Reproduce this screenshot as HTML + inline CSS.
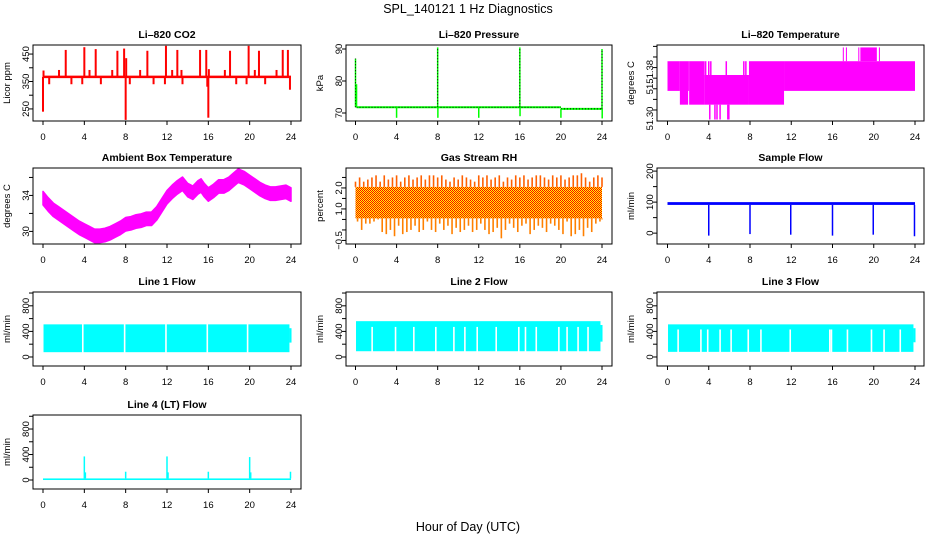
<!DOCTYPE html>
<html><head><meta charset="utf-8"><style>
html,body{margin:0;padding:0;background:#fff;}
svg{display:block;font-family:"Liberation Sans",sans-serif;}
</style></head><body>
<svg id="c" width="936" height="540" viewBox="0 0 936 540">
<defs><pattern id="orng" width="2" height="2" patternUnits="userSpaceOnUse"><rect width="2" height="2" fill="#ffff00"/><rect width="1" height="1" fill="#ff0000"/><rect x="1" y="1" width="1" height="1" fill="#ff0000"/></pattern></defs>
<text x="468" y="13" text-anchor="middle" font-size="12.5">SPL_140121  1 Hz Diagnostics</text>
<text x="468" y="531" text-anchor="middle" font-size="12.5">Hour of Day (UTC)</text>
</svg>
<script>
// ---- data ----
const hourTicks=[0,4,8,12,16,20,24];
const co2Base=367;
const co2SpikeX=[0.0,0.05,0.6,1.55,2.2,2.75,3.8,4.0,4.5,5.1,5.6,6.7,7.2,7.85,8.0,8.05,8.4,9.4,10.1,10.7,11.8,11.9,12.5,13.0,13.4,13.5,15.2,15.8,15.9,16.0,16.05,17.6,18.1,18.7,19.7,19.9,20.5,20.9,21.5,22.6,23.2,23.7,23.9];
const co2SpikeV=[240,390,340,392,465,340,340,475,392,468,340,392,462,470,210,435,340,392,462,340,340,480,392,465,392,340,465,465,331,218,395,392,462,340,340,480,392,462,340,392,465,465,320];
const pressBaseX0=[0.1,20];
const pressBaseX1=[20,24];
const pressBaseV=[71.8,71.3];
const pressSpikeX=[0.0,0.1,4.0,8.0,8.02,12.0,16.0,16.02,20.0,24.0,24.02];
const pressSpikeV=[87,79,68.5,90.5,68.5,68.5,90.5,69,68.5,90,68.3];
const tempSegX0=[0,1.2,2.0,2.1,3.6,7.9,11.3,17.0,17.3,18.5,18.7,20.5];
const tempSegX1=[1.2,2.0,2.1,3.6,7.9,11.3,24,17.1,17.4,18.6,20.3,20.6];
const tempSegLo=[51.318,51.305,51.318,51.305,51.305,51.305,51.318,51.346,51.346,51.346,51.346,51.346];
const tempSegHi=[51.346,51.346,51.346,51.346,51.333,51.346,51.346,51.359,51.359,51.359,51.359,51.359];
const tempSpikeX=[3.7,4.0,4.2,5.7,7.4,7.6,4.1,4.6,4.8,5.1,5.85,5.95];
const tempSpikeLo=[51.333,51.333,51.333,51.333,51.333,51.333,51.291,51.291,51.291,51.291,51.291,51.291];
const tempSpikeHi=[51.346,51.346,51.346,51.346,51.346,51.346,51.305,51.305,51.305,51.305,51.305,51.305];
const ambX=[0,0.5,1,1.5,2,2.5,3,3.5,4,4.5,5,5.5,6,6.5,7,7.5,8,8.5,9,9.5,10,10.5,11,11.5,12,12.5,13,13.5,14,14.5,15,15.3,15.6,16,16.5,17,17.5,18,18.5,18.9,19.5,20,20.5,21,21.5,22,22.5,23,23.5,24];
const ambV=[33.7,33.0,32.4,32.0,31.6,31.2,30.8,30.4,30.1,29.8,29.5,29.5,29.6,29.8,30.1,30.4,30.8,30.9,31.1,31.2,31.4,31.4,32.0,32.9,33.8,34.4,34.9,35.3,34.6,34.3,34.9,35.1,34.6,34.1,34.5,35.0,35.0,35.3,35.8,36.2,35.9,35.5,35.1,34.7,34.4,34.2,34.2,34.3,34.4,34.1];
const rhHi=[2.3,2.5,2.3,2.4,2.5,2.6,2.3,2.6,2.4,2.5,2.6,2.3,2.5,2.6,2.4,2.5,2.6,2.4,2.6,2.6,2.5,2.6,2.4,2.3,2.5,2.4,2.6,2.5,2.4,2.3,2.6,2.5,2.6,2.4,2.5,2.6,2.3,2.5,2.4,2.6,2.5,2.6,2.4,2.5,2.6,2.6,2.5,2.4,2.6,2.5,2.6,2.4,2.5,2.6,2.6,2.7,2.5,2.3,2.5,2.6,2.5];
const rhLo=[0.4,0.0,0.3,0.3,0.4,0.5,-0.1,-0.2,0.0,-0.3,0.2,-0.2,-0.1,0.0,0.2,-0.1,0.0,0.4,0.0,-0.1,0.3,0.0,0.2,-0.2,0.1,-0.1,0.0,0.2,-0.1,0.0,0.3,0.0,-0.2,-0.1,0.1,-0.4,0.0,0.3,0.1,-0.1,0.2,0.3,-0.2,0.0,0.2,0.1,-0.1,0.3,0.2,0.0,-0.2,0.4,-0.3,-0.2,0.0,-0.3,0.1,-0.1,0.3,0.4,0.5];
const rhCore=[0.55,2.05];
const sfBand=[91,100];
const sfSpikeX=[4.0,8.0,11.95,16.0,19.95,23.95];
const sfSpikeV=[-8,-3,-5,-8,-5,-10];
const l1Band=[75,510];
const l1Gaps=[3.85,7.9,11.9,15.9,19.8];
const l2Band=[90,560];
const l2GapTop=470;
const l2Gaps=[1.62,3.9,5.68,7.82,9.58,10.65,11.85,13.7,15.9,16.55,17.6,19.8,20.6,21.67,22.64];
const l3Band=[80,510];
const l3GapTop=430;
const l3Gaps=[1.03,3.24,3.9,5.1,6.17,7.83,9.06,11.9,15.74,15.9,17.45,19.78,21.0,22.57];
const l4Band=[0,25];
const l4X=[4.0,4.1,8.0,12.0,12.1,16.0,20.0,20.1,23.95];
const l4V=[370,120,130,370,120,130,360,120,130];

// ---- layout ----
const NS='http://www.w3.org/2000/svg';
const svg=document.getElementById('c');
const colL=[33,346,657],colR=[301,612,924],colX0=[43,355.5,667.5],colX24=[291,602,915];
const rowT=[45,168,292,415],rowB=[121,244,366,489];
function mk(tag,attrs,parent){const e=document.createElementNS(NS,tag);for(const k in attrs)e.setAttribute(k,attrs[k]);(parent||svg).appendChild(e);return e;}
function panel(id,col,row,title,ylab,dom,ticks,labels,labelText){
  const g=mk('g',{});
  
  
  const L=colL[col],R=colR[col],T=rowT[row],B=rowB[row];
  const x=h=>colX0[col]+(colX24[col]-colX0[col])*h/24;
  const y=v=>B-(v-dom[0])/(dom[1]-dom[0])*(B-T);
  const plot=mk('g',{},g);
  
  
  const t=mk('text',{x:(L+R)/2,y:T-7,'text-anchor':'middle','font-size':10.5,'font-weight':'bold'},g);
  t.textContent=title;
  
  
  const yl=mk('text',{x:0,y:0,transform:`translate(${L-23},${(T+B)/2}) rotate(-90)`,'text-anchor':'middle','font-size':9.5},g);
  yl.textContent=ylab;
  
  
  const ax=mk('g',{stroke:'#000','stroke-width':1},g);
  
  
  hourTicks.forEach(h=>{
    mk('line',{x1:x(h),x2:x(h),y1:B,y2:B+4},ax);
    const tl=mk('text',{x:x(h),y:B+19,'text-anchor':'middle','font-size':9.5,stroke:'none'},g);
    tl.textContent=h;
    
    
  });
  ticks.forEach(v=>mk('line',{x1:L-4,x2:L,y1:y(v),y2:y(v)},ax));
  labels.forEach((v,i)=>{
    const tl=mk('text',{x:0,y:0,transform:`translate(${L-4},${y(v)}) rotate(-90)`,'text-anchor':'middle','font-size':9.5},g);
    tl.textContent=labelText?labelText[i]:v;
    
    
  });
  const box=mk('rect',{x:L,y:T,width:R-L,height:B-T,fill:'none',stroke:'#000'},g);
  
  
  return {x,y,plot,L,R,T,B};
}
function vline(p,h,v0,v1,color,w){return mk('line',{x1:p.x(h),x2:p.x(h),y1:p.y(v0),y2:p.y(v1),stroke:color,'stroke-width':w||1.5},p.plot);}
function band(p,h0,h1,v0,v1,color){return mk('rect',{x:p.x(h0),y:p.y(v1),width:p.x(h1)-p.x(h0),height:p.y(v0)-p.y(v1),fill:color},p.plot);}

// CO2
let p=panel('co2',0,0,'Li\u2013820 CO2','Licor ppm',[206,483],[250,300,350,400,450],[250,350,450]);
co2SpikeX.forEach((h,i)=>{const e=vline(p,h,co2Base,co2SpikeV[i],'#ff0000',2);});
let e=mk('line',{x1:p.x(0),x2:p.x(24),y1:p.y(co2Base),y2:p.y(co2Base),stroke:'#ff0000','stroke-width':2.5},p.plot);


// Pressure
p=panel('pressure',1,0,'Li\u2013820 Pressure','kPa',[67.5,91.25],[70,80,90],[70,80,90]);
pressBaseV.forEach((v,i)=>{
  e=mk('line',{x1:p.x(pressBaseX0[i]),x2:p.x(pressBaseX1[i]),y1:p.y(v),y2:p.y(v),stroke:'#00ff00','stroke-width':2},p.plot);
  
  mk('line',{x1:p.x(pressBaseX0[i]),x2:p.x(pressBaseX1[i]),y1:p.y(v),y2:p.y(v),stroke:'#000','stroke-width':1,'stroke-dasharray':'1,2'},p.plot);
});
pressSpikeX.forEach((h,i)=>{const b=h>=20?71.3:71.8;e=vline(p,h,b,pressSpikeV[i],'#00ff00',1.5);
  if(pressSpikeV[i]>85)mk('line',{x1:p.x(h),x2:p.x(h),y1:p.y(b),y2:p.y(pressSpikeV[i]),stroke:'#000','stroke-width':1,'stroke-dasharray':'1,2'},p.plot);});

// Temperature
p=panel('li820-temp',2,0,'Li\u2013820 Temperature','degrees C',[51.2896,51.3613],[51.30,51.31,51.32,51.33,51.34,51.35,51.36],[51.292,51.321,51.336],['51.30','51.','51.38']);
tempSegX0.forEach((h,i)=>{e=band(p,h,tempSegX1[i],tempSegLo[i],tempSegHi[i],'#ff00ff');});
tempSpikeX.forEach((h,i)=>{e=vline(p,h,tempSpikeLo[i],tempSpikeHi[i],'#ff00ff',1.5);});

// Ambient
p=panel('ambient-temp',0,1,'Ambient Box Temperature','degrees C',[28.6,37.05],[30,32,34,36],[30,34]);
let pts=ambX.map((h,i)=>p.x(h)+','+p.y(ambV[i]+0.75)).concat(ambX.slice().reverse().map((h,j)=>{const i=ambX.length-1-j;return p.x(h)+','+p.y(ambV[i]-0.75);}));
e=mk('polygon',{points:pts.join(' '),fill:'#ff00ff',stroke:'#ff00ff','stroke-width':1.5,'stroke-linejoin':'round'},p.plot);


// RH
p=panel('gas-rh',1,1,'Gas Stream RH','percent',[-0.67,2.95],[-0.5,0,0.5,1,1.5,2,2.5],[-0.5,1.0,2.0],['\u22120.5','1.0','2.0']);
rhHi.forEach((v,i)=>{const h=i*0.4;e=vline(p,h,rhCore[1],v,'#ff6000',1.6);});
rhLo.forEach((v,i)=>{const h=i*0.4+0.2;e=vline(p,Math.min(h,24),rhCore[0],v,'#ff8000',1.6);});
e=band(p,0,24,rhCore[0],rhCore[1],'url(#orng)');

// Sample flow
p=panel('sample-flow',2,1,'Sample Flow','ml/min',[-35,210],[0,50,100,150,200],[0,100,200]);
e=band(p,0,24,sfBand[0],sfBand[1],'#0000ff');
sfSpikeX.forEach((h,i)=>{e=vline(p,h,sfBand[0],sfSpikeV[i],'#0000ff',1.5);});

// Line flows
function flow(id,col,row,title,bandV,gaps,gapTop,dom){
  const q=panel(id,col,row,title,'ml/min',dom,[0,200,400,600,800,1000],[0,400,800]);
  let r=band(q,0.05,23.85,bandV[0],bandV[1],'#00ffff');
  r=band(q,23.85,24.05,bandV[0]+150,bandV[1]-60,'#00ffff');
  gaps.forEach(h=>{const l=vline(q,h,bandV[0]-5,gapTop,'#ffffff',1.6);});
  return q;
}
flow('line1-flow',0,2,'Line 1 Flow',l1Band,l1Gaps,l1Band[1]+5,[-141,1016]);
flow('line2-flow',1,2,'Line 2 Flow',l2Band,l2Gaps,l2GapTop,[-141,1016]);
flow('line3-flow',2,2,'Line 3 Flow',l3Band,l3Gaps,l3GapTop,[-141,1016]);
p=panel('line4-flow',0,3,'Line 4 (LT) Flow','ml/min',[-141,1020],[0,200,400,600,800,1000],[0,400,800]);
e=band(p,0,24,l4Band[0],l4Band[1],'#00ffff');
l4X.forEach((h,i)=>{e=vline(p,h,l4Band[1],l4V[i],'#00ffff',1.5);});
</script>
</body></html>
